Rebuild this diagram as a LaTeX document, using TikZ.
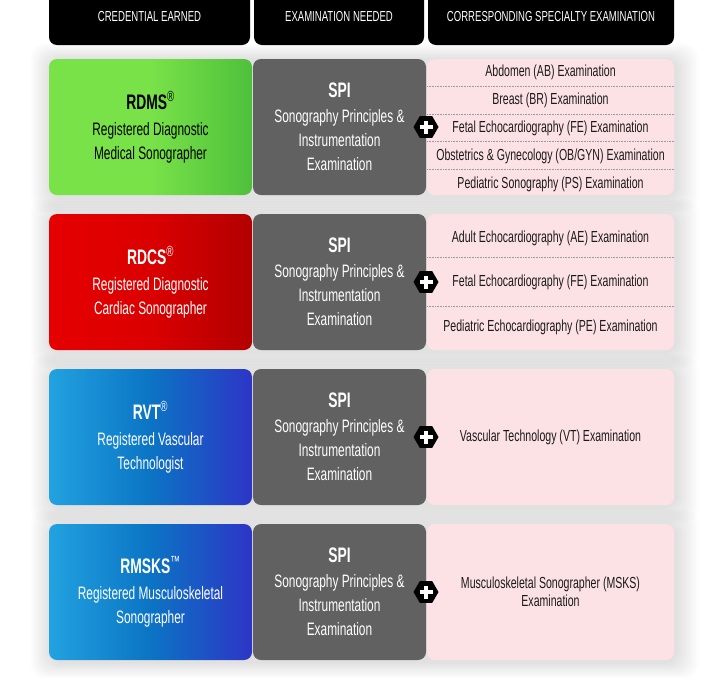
\documentclass[tikz,border=0pt]{standalone}
\usepackage{fontspec}
\setmainfont{Liberation Sans}[FakeStretch=0.66]
\usetikzlibrary{positioning,shapes.geometric}

\definecolor{rdmsgreen}{HTML}{79E249}
\definecolor{rdmsgreendark}{HTML}{4EC03B}
\definecolor{rdcsred}{HTML}{E60000}
\definecolor{rdcsreddark}{HTML}{B20000}
\definecolor{rvtblue}{HTML}{22A2E0}
\definecolor{rvtbluemid}{HTML}{0B74C4}
\definecolor{rvtbluedark}{HTML}{2D35C6}
\definecolor{spigray}{HTML}{616161}
\definecolor{specpink}{HTML}{FDE2E5}
\definecolor{spectext}{HTML}{1A1A1A}

\tikzset{
  hdr/.style={fill=black, text=white, rounded corners=8pt, minimum height=56pt,
    inner sep=0pt, outer sep=0pt, font=\fontsize{14.5}{16}\selectfont},
  rowglow/.style={fill=black, opacity=0.011, rounded corners=14pt},
  card/.style={rounded corners=8pt, minimum height=136pt, inner sep=0pt, outer sep=0pt,
    align=center, font=\fontsize{18}{24}\selectfont},
  credbox/.style={card, minimum width=203pt},
  spibox/.style={card, fill=spigray, text=white, minimum width=173pt},
  specbox/.style={card, fill=specpink, text=spectext, minimum width=247pt,
    font=\fontsize{16}{18}\selectfont},
  specitem/.style={text=spectext, inner sep=0pt, font=\fontsize{16}{18}\selectfont},
  divider/.style={densely dotted, draw=gray!80, line width=0.6pt},
  plushex/.style={regular polygon, regular polygon sides=6, fill=black, minimum size=25pt,
    inner sep=0pt,
    path picture={\draw[white, line width=3.6pt]
      ([xshift=-6.5pt]path picture bounding box.center) -- ([xshift=6.5pt]path picture bounding box.center)
      ([yshift=-6.5pt]path picture bounding box.center) -- ([yshift=6.5pt]path picture bounding box.center);}}
}

\begin{document}
\begin{tikzpicture}[x=1pt,y=-1pt]
  \useasboundingbox (0,0) rectangle (720,689);
  \fill[white] (0,0) rectangle (720,689);

  % header
  \node[hdr, minimum width=201pt] (hcred) at (149.5,17) {CREDENTIAL EARNED};
  \node[hdr, minimum width=170pt] (hexam) at (339,17) {EXAMINATION NEEDED};
  \node[hdr, minimum width=246pt] (hspec) at (551,17) {CORRESPONDING SPECIALTY EXAMINATION};

  % soft shadow round each row
  \foreach \y in {127,282,437,592}
    \foreach \g in {1,...,10}
      \fill[rowglow] (51-2*\g,\y-67-1.6*\g) rectangle (676+2.2*\g,\y+70+1.6*\g);

  % RDMS
  \node[credbox, left color=rdmsgreen, right color=rdmsgreendark, middle color=rdmsgreen, text=black]
    (rdms) at (150.5,127) {{\bfseries\fontsize{21}{24}\selectfont RDMS\textsuperscript{\mdseries ®}}\\[2pt]
    Registered Diagnostic\\ Medical Sonographer};
  \node[spibox, right=1pt of rdms] (rdmsspi) {{\bfseries\fontsize{21}{24}\selectfont SPI}\\[1pt]
    Sonography Principles \&\\ Instrumentation\\ Examination};
  \node[specbox, right=1pt of rdmsspi] (rdmsspec) {};
  \foreach \txt [count=\i] in {Abdomen (AB) Examination, Breast (BR) Examination,
      Fetal Echocardiography (FE) Examination, Obstetrics \& Gynecology (OB/GYN) Examination,
      Pediatric Sonography (PS) Examination}
    \node[specitem] (rdmsexam\i) at (550.5,{44+28*\i}) {\txt};
  \foreach \y in {86,114,141.5,169}
    \draw[divider] (rdmsspec.west |- 0,\y) -- (rdmsspec.east |- 0,\y);
  \node[plushex] (rdmsplus) at (rdmsspi.east) {};

  % RDCS
  \node[credbox, left color=rdcsred, right color=rdcsreddark, middle color=rdcsred!95!black, text=white]
    (rdcs) at (150.5,282) {{\bfseries\fontsize{21}{24}\selectfont RDCS\textsuperscript{\mdseries ®}}\\[2pt]
    Registered Diagnostic\\ Cardiac Sonographer};
  \node[spibox, right=1pt of rdcs] (rdcsspi) {{\bfseries\fontsize{21}{24}\selectfont SPI}\\[1pt]
    Sonography Principles \&\\ Instrumentation\\ Examination};
  \node[specbox, right=1pt of rdcsspi] (rdcsspec) {};
  \foreach \txt [count=\i] in {Adult Echocardiography (AE) Examination,
      Fetal Echocardiography (FE) Examination, Pediatric Echocardiography (PE) Examination}
    \node[specitem] (rdcsexam\i) at (550.5,{193.5+44.5*\i}) {\txt};
  \foreach \y in {257,306}
    \draw[divider] (rdcsspec.west |- 0,\y) -- (rdcsspec.east |- 0,\y);
  \node[plushex] (rdcsplus) at (rdcsspi.east) {};

  % RVT
  \node[credbox, left color=rvtblue, right color=rvtbluedark, middle color=rvtbluemid, text=white]
    (rvt) at (150.5,437) {{\bfseries\fontsize{21}{24}\selectfont RVT\textsuperscript{\mdseries ®}}\\[2pt]
    Registered Vascular\\ Technologist};
  \node[spibox, right=1pt of rvt] (rvtspi) {{\bfseries\fontsize{21}{24}\selectfont SPI}\\[1pt]
    Sonography Principles \&\\ Instrumentation\\ Examination};
  \node[specbox, right=1pt of rvtspi] (rvtspec) {Vascular Technology (VT) Examination};
  \node[plushex] (rvtplus) at (rvtspi.east) {};

  % RMSKS
  \node[credbox, left color=rvtblue, right color=rvtbluedark, middle color=rvtbluemid, text=white]
    (rmsks) at (150.5,592) {{\bfseries\fontsize{21}{24}\selectfont RMSKS\textsuperscript{\mdseries ™}}\\[2pt]
    Registered Musculoskeletal\\ Sonographer};
  \node[spibox, right=1pt of rmsks] (rmsksspi) {{\bfseries\fontsize{21}{24}\selectfont SPI}\\[1pt]
    Sonography Principles \&\\ Instrumentation\\ Examination};
  \node[specbox, right=1pt of rmsksspi] (rmsksspec) {Musculoskeletal Sonographer (MSKS)\\ Examination};
  \node[plushex] (rmsksplus) at (rmsksspi.east) {};
\end{tikzpicture}
\end{document}
